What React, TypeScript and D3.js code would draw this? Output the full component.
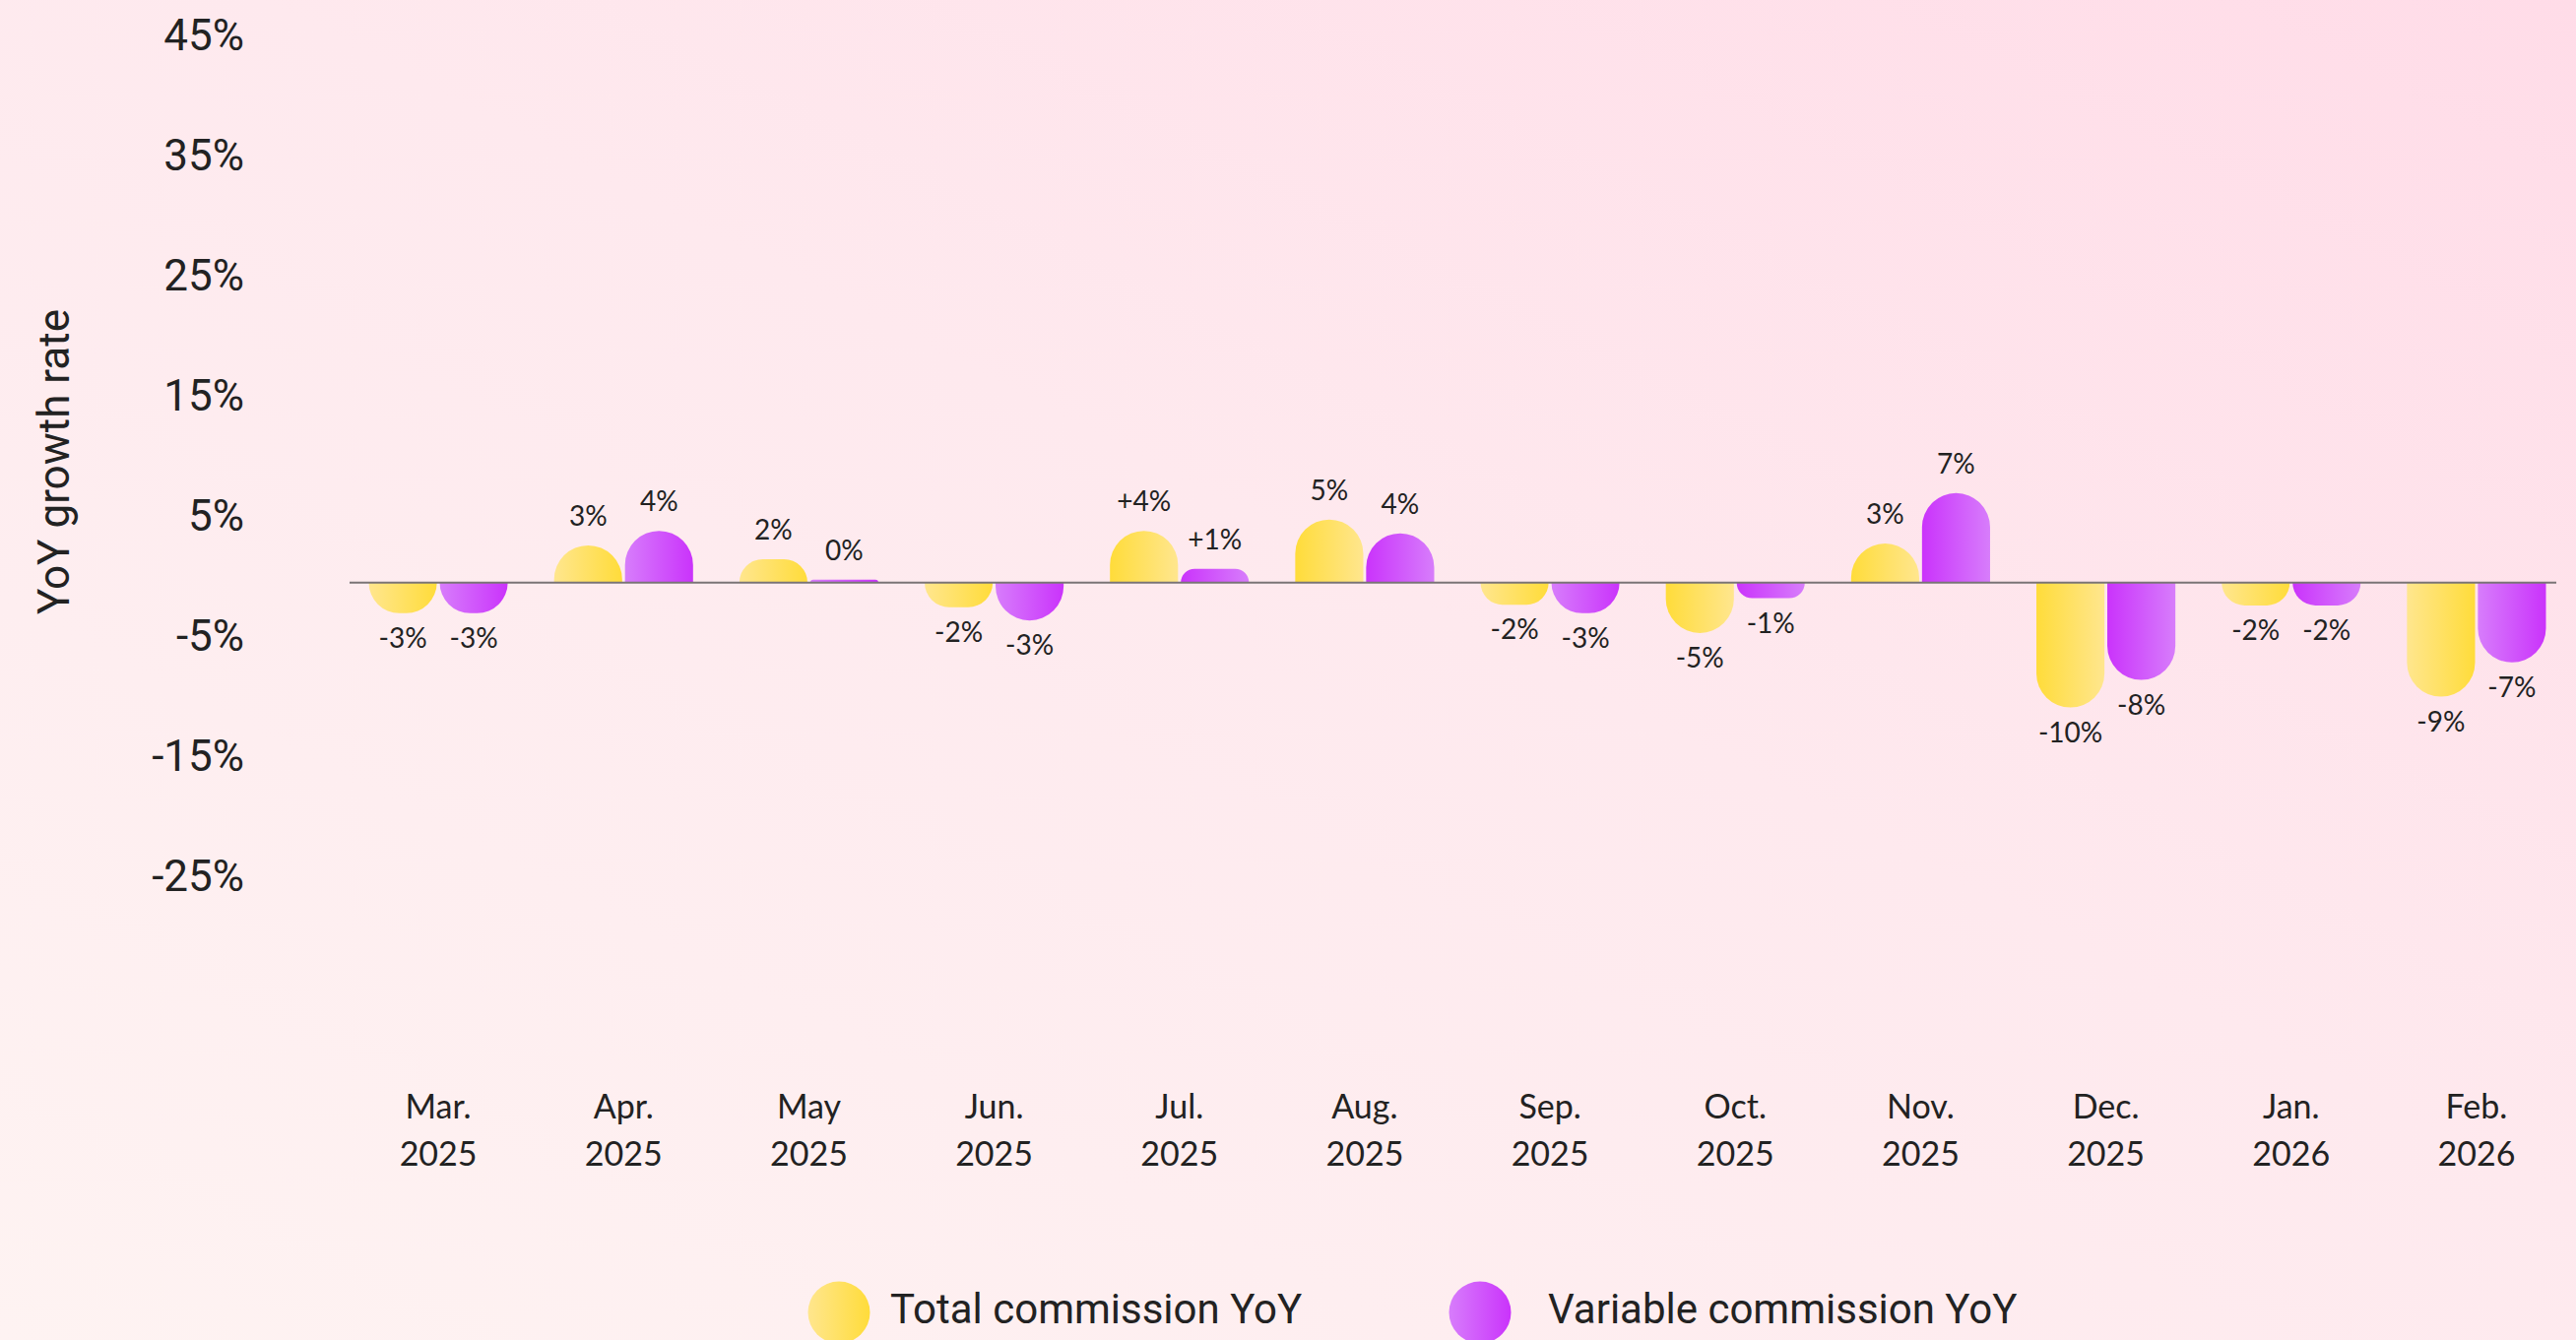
import React, { useEffect, useRef } from 'react';
import * as d3 from 'd3';

const months = ["Mar.", "Apr.", "May", "Jun.", "Jul.", "Aug.", "Sep.", "Oct.", "Nov.", "Dec.", "Jan.", "Feb."];
const years = ["2025", "2025", "2025", "2025", "2025", "2025", "2025", "2025", "2025", "2025", "2026", "2026"];

// bar lengths, labels as printed
const totalYoY = [-2.55, 3.1, 1.95, -2.05, 4.3, 5.25, -1.85, -4.2, 3.25, -10.4, -1.9, -9.5];
const variableYoY = [-2.55, 4.3, 0.25, -3.15, 1.15, 4.1, -2.55, -1.3, 7.45, -8.1, -1.9, -6.65];
const totalLabels = ["-3%", "3%", "2%", "-2%", "+4%", "5%", "-2%", "-5%", "3%", "-10%", "-2%", "-9%"];
const variableLabels = ["-3%", "4%", "0%", "-3%", "+1%", "4%", "-3%", "-1%", "7%", "-8%", "-2%", "-7%"];

const yTicks = [45, 35, 25, 15, 5, -5, -15, -25];

const seriesNames = ["Total commission YoY", "Variable commission YoY"];

// months where the bar gradient runs the other way in the original
const totalFlipped = ["Jul.", "Aug.", "Oct.", "Nov.", "Dec."];
const variableFlipped = ["Jul.", "Aug.", "Oct.", "Nov.", "Dec.", "Jan."];

const W = 2616;
const H = 1361;

function barPath(x: number, w: number, y0: number, y1: number) {
  const h = Math.abs(y1 - y0);
  const r = Math.min(w / 2, h);
  if (y1 <= y0) {
    return `M${x},${y0} L${x},${y1 + r} A${r},${r} 0 0 1 ${x + r},${y1} L${x + w - r},${y1} A${r},${r} 0 0 1 ${x + w},${y1 + r} L${x + w},${y0} Z`;
  }
  return `M${x},${y0} L${x},${y1 - r} A${r},${r} 0 0 0 ${x + r},${y1} L${x + w - r},${y1} A${r},${r} 0 0 0 ${x + w},${y1 - r} L${x + w},${y0} Z`;
}

export default function App() {
  const ref = useRef<SVGSVGElement>(null);

  useEffect(() => {
    document.body.style.margin = '0';
    const svg = d3.select(ref.current);
    svg.selectAll('*').remove();

    const defs = svg.append('defs');
    const bg = defs.append('linearGradient').attr('id', 'bg')
      .attr('x1', '0').attr('y1', '1').attr('x2', '1').attr('y2', '0');
    bg.append('stop').attr('offset', '0%').attr('stop-color', '#fef3f2');
    bg.append('stop').attr('offset', '55%').attr('stop-color', '#fee9ee');
    bg.append('stop').attr('offset', '100%').attr('stop-color', '#ffdce8');

    const grad = (id: string, a: string, b: string) => {
      const g = defs.append('linearGradient').attr('id', id)
        .attr('x1', '0').attr('y1', '0').attr('x2', '1').attr('y2', '0');
      g.append('stop').attr('offset', '0%').attr('stop-color', a);
      g.append('stop').attr('offset', '100%').attr('stop-color', b);
    };
    const yLight = '#ffe68e', ySat = '#ffdc3a';
    const pLight = '#d77dfb', pSat = '#ca33fb';
    grad('yel', yLight, ySat);
    grad('yelR', ySat, yLight);
    grad('pur', pLight, pSat);
    grad('purR', pSat, pLight);

    svg.append('rect').attr('width', W).attr('height', H).attr('fill', 'url(#bg)');

    const keys = months.map((m, i) => m + ' ' + years[i]);

    const x0 = d3.scaleBand()
      .domain(keys)
      .range([351, 2609])
      .paddingInner(0.25)
      .paddingOuter(0.125);

    const x1 = d3.scaleBand()
      .domain(['total', 'variable'])
      .range([0, x0.bandwidth()])
      .paddingInner(0.04);

    const y = d3.scaleLinear()
      .domain([-25, 45])
      .range([591.7 + 25 * 12.2, 591.7 - 45 * 12.2]);

    // y tick labels
    svg.append('g')
      .selectAll('text')
      .data(yTicks)
      .join('text')
      .attr('x', 248)
      .attr('y', d => y(d) - 7)
      .attr('dy', '0.35em')
      .attr('text-anchor', 'end')
      .attr('font-family', 'Roboto, sans-serif')
      .attr('font-size', 44)
      .attr('fill', '#222')
      .text(d => d + '%');

    // y title
    svg.append('text')
      .attr('transform', `translate(70,${469}) rotate(-90)`)
      .attr('text-anchor', 'middle')
      .attr('font-family', 'Roboto, sans-serif')
      .attr('font-size', 44)
      .attr('fill', '#222')
      .text('YoY growth rate');

    const rows = keys.map((k, i) => ({
      key: k,
      month: months[i],
      year: years[i],
      total: totalYoY[i],
      variable: variableYoY[i],
      totalLabel: totalLabels[i],
      variableLabel: variableLabels[i],
    }));

    // bars
    const groups = svg.append('g')
      .selectAll('g')
      .data(rows)
      .join('g')
      .attr('transform', d => `translate(${x0(d.key)},0)`);

    const bars = (series: 'total' | 'variable') => {
      const flipped = series === 'total' ? totalFlipped : variableFlipped;
      const base = series === 'total' ? 'yel' : 'pur';
      groups.append('path')
        .attr('d', d => barPath(x1(series)!, x1.bandwidth(), y(0), y(d[series])))
        .attr('fill', d => `url(#${base}${flipped.includes(d.month) ? 'R' : ''})`);
      groups.append('text')
        .attr('x', x1(series)! + x1.bandwidth() / 2)
        .attr('y', d => d[series] >= 0 ? y(d[series]) - 20 : y(d[series]) + 35)
        .attr('text-anchor', 'middle')
        .attr('font-family', 'Lato, sans-serif')
        .attr('font-size', 28)
        .attr('fill', '#222')
        .text(d => series === 'total' ? d.totalLabel : d.variableLabel);
    };
    bars('total');
    bars('variable');

    // zero line
    svg.append('line')
      .attr('x1', x0.range()[0] + 4)
      .attr('x2', x0.range()[1] - 13)
      .attr('y1', y(0))
      .attr('y2', y(0))
      .attr('stroke', '#7a7476')
      .attr('stroke-width', 2);

    // x labels
    const xl = svg.append('g')
      .selectAll('text')
      .data(rows)
      .join('text')
      .attr('text-anchor', 'middle')
      .attr('font-family', 'Lato, sans-serif')
      .attr('font-size', 34)
      .attr('fill', '#222');
    xl.append('tspan')
      .attr('x', d => x0(d.key)! + x0.bandwidth() / 2)
      .attr('y', 1136)
      .text(d => d.month);
    xl.append('tspan')
      .attr('x', d => x0(d.key)! + x0.bandwidth() / 2)
      .attr('y', 1184)
      .text(d => d.year);

    // legend
    const legendX = [852, 1503];
    const legendTextDx = [52, 69];
    const legendFill = ['url(#yel)', 'url(#pur)'];
    const lg = svg.append('g')
      .selectAll('g')
      .data(seriesNames)
      .join('g')
      .attr('transform', (d, i) => `translate(${legendX[i]},1333)`);
    lg.append('circle')
      .attr('r', 31.5)
      .attr('fill', (d, i) => legendFill[i]);
    lg.append('text')
      .attr('x', (d, i) => legendTextDx[i])
      .attr('y', 11)
      .attr('font-family', 'Roboto, sans-serif')
      .attr('font-size', 42)
      .attr('fill', '#222')
      .text(d => d);
  }, []);

  return <svg ref={ref} width={W} height={H} style={{ display: 'block' }} />;
}
